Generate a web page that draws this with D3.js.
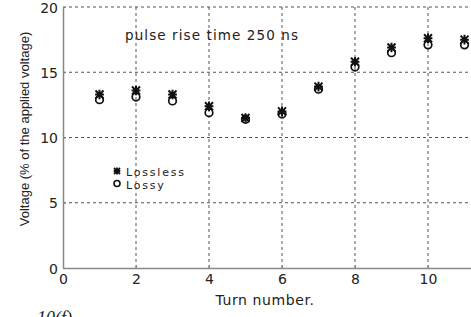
<!DOCTYPE html>
<html>
<head>
<meta charset="utf-8">
<script src="https://cdn.jsdelivr.net/npm/d3@7"></script>
<style>
body { margin:0; background:#fff; }
svg text { font-family: "DejaVu Sans", sans-serif; fill:#222; }
.grid line { stroke:#555; stroke-width:1; stroke-dasharray:3,3; }
</style>
</head>
<body>
<div id="chart"></div>
<script>
var svgWidth = 471,
	svgHeight = 317;

var turns = [1, 2, 3, 4, 5, 6, 7, 8, 9, 10, 11];
var lossless = [13.3, 13.6, 13.3, 12.4, 11.5, 12.0, 13.9, 15.8, 16.9, 17.6, 17.5];
var lossy = [12.9, 13.1, 12.8, 11.9, 11.4, 11.8, 13.7, 15.4, 16.5, 17.1, 17.1];
var xTicks = [0, 2, 4, 6, 8, 10];
var yTicks = [0, 5, 10, 15, 20];
var seriesNames = ['Lossless', 'Lossy'];

var svg = d3.select('#chart')
	.append('svg')
	.attr('width', svgWidth)
	.attr('height', svgHeight);

// plot runs past the right edge (cropped figure)
var xScale = d3.scaleLinear().domain([0, 12]).range([63, 501]);
var yScale = d3.scaleLinear().domain([0, 20]).range([268, 7]);

// grid
var grid = svg.append('g').attr('class', 'grid');
grid.selectAll('.gx')
	.data(xTicks.filter(d => d > 0))
	.enter().append('line')
	.attr('x1', d => xScale(d)).attr('x2', d => xScale(d))
	.attr('y1', yScale(0)).attr('y2', yScale(20));
grid.selectAll('.gy')
	.data(yTicks.filter(d => d > 0))
	.enter().append('line')
	.attr('x1', xScale(0)).attr('x2', svgWidth)
	.attr('y1', d => yScale(d)).attr('y2', d => yScale(d));

// axes (matlab style, ticks inside)
var xAxis = svg.append('g')
	.attr('transform', `translate(0,${yScale(0)})`)
	.call(d3.axisBottom(xScale).tickValues(xTicks).tickSizeInner(-3).tickSizeOuter(0).tickPadding(7));
var yAxis = svg.append('g')
	.attr('transform', `translate(${xScale(0)},0)`)
	.call(d3.axisLeft(yScale).tickValues(yTicks).tickSizeInner(-3).tickSizeOuter(0).tickPadding(5));

[xAxis, yAxis].forEach(a => {
	a.select('.domain').attr('stroke', '#888').attr('stroke-width', 1.5);
	a.selectAll('.tick line').attr('stroke', '#888');
	a.selectAll('text').attr('font-size', 14).attr('fill', '#222')
		.style('font-family', '"DejaVu Sans", sans-serif');
});
xAxis.selectAll('text').attr('dy', '0.62em');
yAxis.selectAll('text').attr('dy', '0.36em');

// markers
function starPath(cx, cy, r) {
	return `M${cx - r},${cy - r}L${cx + r},${cy + r}M${cx - r},${cy + r}L${cx + r},${cy - r}` +
		`M${cx},${cy - r * 1.2}L${cx},${cy + r * 1.2}M${cx - r * 1.1},${cy}L${cx + r * 1.1},${cy}`;
}

var chartGroup = svg.append('g');

chartGroup.selectAll('.lossy')
	.data(turns)
	.enter().append('circle')
	.attr('cx', (d, i) => xScale(d))
	.attr('cy', (d, i) => yScale(lossy[i]))
	.attr('r', 3.8)
	.attr('fill', 'none')
	.attr('stroke', '#111')
	.attr('stroke-width', 1.7);

chartGroup.selectAll('.lossless')
	.data(turns)
	.enter().append('path')
	.attr('d', (d, i) => starPath(xScale(d), yScale(lossless[i]), 4))
	.attr('stroke', '#111')
	.attr('stroke-width', 2)
	.attr('fill', 'none');

// legend (tightly stacked, as in the original)
var legend = svg.append('g').attr('transform', 'translate(117,171)');
legend.append('path').attr('d', starPath(0, 0, 3)).attr('stroke', '#111').attr('stroke-width', 1.8);
legend.append('circle').attr('cx', 0).attr('cy', 12.5).attr('r', 3).attr('fill', 'none')
	.attr('stroke', '#111').attr('stroke-width', 1.6);
var legendText = legend.append('text')
	.attr('font-size', 11)
	.attr('letter-spacing', 1.8);
legendText.selectAll('tspan')
	.data(seriesNames)
	.enter().append('tspan')
	.attr('x', 9)
	.attr('y', (d, i) => 5 + i * 13)
	.text(d => d);

// annotation
svg.append('text')
	.attr('x', 125).attr('y', 40)
	.attr('font-size', 13.5)
	.attr('letter-spacing', 1.1)
	.text('pulse rise time 250 ns');

// axis titles
svg.append('text')
	.attr('x', 265).attr('y', 305)
	.attr('text-anchor', 'middle')
	.attr('font-size', 14)
	.attr('letter-spacing', 0.6)
	.text('Turn number.');

svg.append('text')
	.attr('transform', `translate(29,${129})rotate(-90)`)
	.attr('text-anchor', 'middle')
	.attr('font-size', 13)
	.style('font-family', '"Liberation Sans", Arial, sans-serif')
	.text('Voltage (% of the applied voltage)');

// figure caption, cut off by the crop
svg.append('text')
	.attr('x', 37).attr('y', 324)
	.attr('font-size', 18)
	.style('font-family', '"Liberation Serif", serif')
	.style('font-style', 'italic')
	.text('10(f)');
</script>
</body>
</html>
